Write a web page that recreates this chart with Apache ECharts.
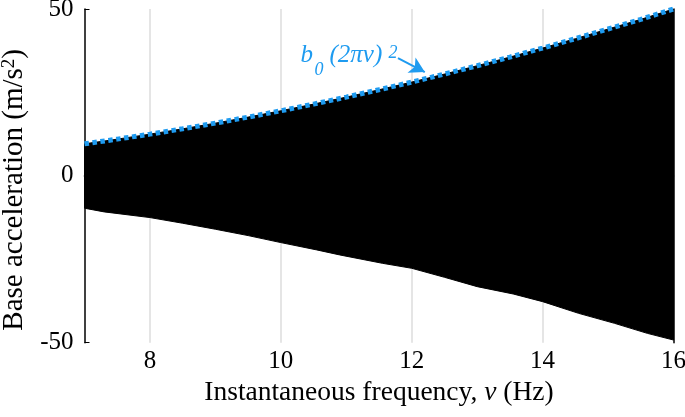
<!DOCTYPE html>
<html>
<head>
<meta charset="utf-8">
<script src="https://cdn.jsdelivr.net/npm/echarts@6/dist/echarts.min.js"></script>
<style>html,body{margin:0;padding:0;background:#fff}#c{width:685px;height:417px}</style>
</head>
<body>
<div id="c"></div>
<script>
const freq  = [7, 7.5, 8, 8.5, 9, 9.5, 10, 10.5, 11, 11.5, 12, 12.5, 13, 13.5, 14, 14.5, 15, 15.5, 16];
const upper = [9.6, 11.0, 12.5, 14.1, 15.8, 17.6, 19.5, 21.5, 23.6, 25.8, 28.1, 30.5, 33.0, 35.6, 38.3, 41.1, 44.0, 46.9, 50.0];
const lowerFreq = [7, 7.3, 8, 8.5, 9, 9.5, 10, 10.55, 10.9, 11.55, 12, 12.5, 13, 13.55, 14, 14.55, 15.1, 15.6, 16];
const lower = [-9.7, -10.8, -12.5, -14.2, -16.0, -17.9, -20.0, -22.2, -23.7, -26.2, -27.7, -30.4, -33.2, -35.4, -37.7, -41.2, -44.2, -47.2, -49.2];
const xTickValues = [8, 10, 12, 14, 16];
const xGridValues = [8, 10, 12, 14];
const yTickValues = [-50, 0, 50];
const arrowFrom = [11.79, 35.3];
const arrowTo = [12.2, 31.1];
const annotAnchor = [10.3, 33.7];

const FONT = 'Liberation Serif';
const BLUE = '#1E9BF0';

const chart = echarts.init(document.getElementById('c'), null, {renderer: 'canvas'});
const upperData = freq.map((f, i) => [f, upper[i]]);
const bandData = lowerFreq.map((f, i) => [f, lower[i]]);

const option = {
  animation: false,
  grid: {left: 84.5, right: 11.5, top: 9, bottom: 74.3, containLabel: false, outerBoundsMode: 'none'},
  xAxis: [{
    type: 'value', min: 7, max: 16, interval: 1, position: 'bottom',
    name: 'Instantaneous frequency, {i|ν} (Hz)', nameLocation: 'middle', nameGap: 32,
    nameTextStyle: {fontFamily: FONT, fontSize: 27.5, color: '#000',
      rich: {i: {fontFamily: FONT, fontSize: 27.5, fontStyle: 'italic', color: '#000'}}},
    axisLine: {show: true, lineStyle: {color: '#000', width: 1.5}},
    axisTick: {show: true, inside: true, length: 5, customValues: xGridValues, lineStyle: {color: '#000', width: 1.5}},
    axisLabel: {customValues: xTickValues, fontFamily: FONT, fontSize: 25, color: '#000', margin: 6},
    splitLine: {show: false}
  }, {
    type: 'value', min: 7, max: 16, interval: 1, position: 'top',
    axisLine: {show: true, lineStyle: {color: '#333', width: 1.5}},
    axisTick: {show: true, inside: true, length: 5, customValues: xGridValues, lineStyle: {color: '#000', width: 1.5}},
    axisLabel: {show: false}, splitLine: {show: false}
  }],
  yAxis: [{
    type: 'value', min: -50, max: 50, interval: 50, position: 'left',
    name: '{a|Base acceleration (m/s}{s|2}{a|)}', nameLocation: 'middle', nameGap: 46, nameRotate: 90,
    nameTextStyle: {padding: [0, 28, 0, 0], rich: {
      a: {fontFamily: FONT, fontSize: 29, color: '#000'},
      s: {fontFamily: FONT, fontSize: 19, color: '#000', verticalAlign: 'top', padding: [0, 0, 12, 0]}
    }},
    axisLine: {show: true, lineStyle: {color: '#000', width: 1.5}},
    axisTick: {show: true, inside: true, length: 5, customValues: yTickValues, lineStyle: {color: '#000'}},
    axisLabel: {customValues: yTickValues, fontFamily: FONT, fontSize: 25, color: '#000', margin: 11},
    splitLine: {show: false}
  }, {
    type: 'value', min: -50, max: 50, interval: 50, position: 'right',
    axisLine: {show: true, lineStyle: {color: '#000', width: 1.5}},
    axisTick: {show: false}, axisLabel: {show: false}, splitLine: {show: false}
  }],
  series: [{
    type: 'line', name: 'grid', data: [], z: 1, silent: true,
    markLine: {silent: true, z: 1, symbol: ['none', 'none'], label: {show: false},
      lineStyle: {color: '#DCDCDC', type: 'solid', width: 1.5},
      data: xGridValues.map(v => ({xAxis: v}))}
  }, {
    type: 'custom', name: 'signal', data: bandData, z: 2, silent: true, clip: true,
    encode: {x: 0, y: 1},
    renderItem: function (params, api) {
      if (params.dataIndex !== 0) return null;
      const pts = [];
      for (let i = 0; i < freq.length; i++) pts.push(api.coord([freq[i], upper[i]]));
      for (let i = lowerFreq.length - 1; i >= 0; i--) pts.push(api.coord([lowerFreq[i], lower[i]]));
      return {type: 'polygon', shape: {points: pts}, style: {fill: '#000', stroke: '#000', lineWidth: 1}};
    }
  }, {
    type: 'line', name: 'envelope', data: upperData, symbol: 'none', z: 3, silent: true,
    lineStyle: {color: BLUE, width: 5, type: [4.5, 3.5]},
    markLine: {silent: true, z: 6, symbol: ['none', 'arrow'], symbolSize: [13, 15], label: {show: false},
      lineStyle: {color: BLUE, type: 'solid', width: 2},
      data: [[{coord: arrowFrom}, {coord: arrowTo}]]}
  }]
};
chart.setOption(option);

const p = chart.convertToPixel({xAxisIndex: 0, yAxisIndex: 0}, annotAnchor);
const tStyle = (text, size) => ({text: text, fill: BLUE, font: 'italic ' + size + 'px "' + FONT + '"', verticalAlign: 'middle', align: 'left'});
chart.setOption({graphic: [
  {type: 'text', x: p[0], y: p[1] - 8.4, style: tStyle('b', 25), z: 10},
  {type: 'text', x: p[0] + 14, y: p[1] + 6.7, style: tStyle('0', 18), z: 10},
  {type: 'text', x: p[0] + 29, y: p[1] - 8.4, style: tStyle('(2πν)', 25), z: 10},
  {type: 'text', x: p[0] + 88, y: p[1] - 10.5, style: tStyle('2', 18), z: 10}
]});
</script>
</body>
</html>
